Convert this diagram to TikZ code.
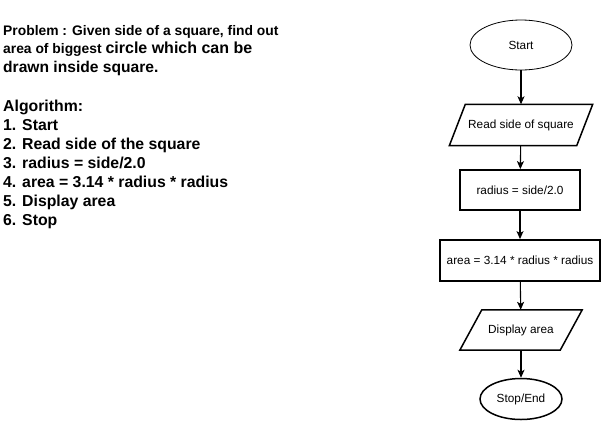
\documentclass[tikz,border=0pt]{standalone}
\usepackage{fontspec}
\setmainfont{Liberation Sans}
\usetikzlibrary{shapes.geometric, positioning, arrows.meta}

\begin{document}
\begin{tikzpicture}[
    x=1pt, y=-1pt,
    terminal/.style={draw, ellipse, inner sep=0pt, align=center, fill=white, font=\fontsize{11.8}{14}\selectfont},
    iobox/.style={rectangle, inner sep=0pt, align=center, font=\fontsize{11.8}{14}\selectfont},
    ioline/.style={line width=1.5pt, line join=miter},
    process/.style={draw, rectangle, inner sep=0pt, line width=1.8pt, align=center, fill=white, font=\fontsize{11.8}{14}\selectfont},
    flow/.style={line width=1.1pt, -{Stealth[length=8pt, width=7pt, inset=2pt]}},
    probline/.style={anchor=base west, inner sep=0pt, font=\bfseries},
    algline/.style={anchor=base west, inner sep=0pt, font=\fontsize{15.8}{19}\selectfont\bfseries}
]
    \useasboundingbox (0,0) rectangle (601,421);

    % ================= PROBLEM STATEMENT =================
    \node[probline] (prob1) at (3, 35) {\fontsize{13.85}{18}\selectfont Problem : Given side of a square, find out};
    \node[probline] (prob2) at (3, 53) {\fontsize{13.85}{18}\selectfont area of biggest \fontsize{16}{18}\selectfont circle which can be};
    \node[probline] (prob3) at (3, 72) {\fontsize{15.6}{18}\selectfont drawn inside square.};

    % ================= ALGORITHM =================
    \node[algline] (alg0) at (3, 111) {Algorithm:};
    \node[algline] (alg1) at (3, 130) {1. Start};
    \node[algline] (alg2) at (3, 149) {2. Read side of the square};
    \node[algline] (alg3) at (3, 168) {3. radius = side/2.0};
    \node[algline] (alg4) at (3, 187) {4. area = 3.14 * radius * radius};
    \node[algline] (alg5) at (3, 206) {5. Display area};
    \node[algline] (alg6) at (3, 225) {6. Stop};

    % ================= FLOWCHART =================
    \node[terminal, line width=0.8pt, minimum width=102pt, minimum height=50pt] (start) at (521, 45) {Start};

    \node[iobox, minimum width=127pt, minimum height=41pt] (read) at (521, 125) {Read side of square};
    \draw[ioline] ([xshift=8]read.north west) -- ([xshift=8]read.north east)
        -- ([xshift=-8]read.south east) -- ([xshift=-8]read.south west) -- cycle;

    \node[process, minimum width=120pt, minimum height=40pt] (radius) at (520, 190) {radius = side/2.0};
    \node[process, minimum width=160pt, minimum height=41pt] (area) at (520, 260.5) {area = 3.14 * radius * radius};

    \node[iobox, minimum width=100pt, minimum height=40pt] (disp) at (521, 330) {Display area};
    \draw[ioline] ([xshift=11]disp.north west) -- ([xshift=11]disp.north east)
        -- ([xshift=-11]disp.south east) -- ([xshift=-11]disp.south west) -- cycle;

    \node[terminal, line width=1.5pt, minimum width=82pt, minimum height=41pt] (stop) at (521, 399) {Stop/End};

    % connectors
    \draw[flow] (start) -- (read);
    \draw[flow] (read) -- (radius);
    \draw[flow] (radius) -- (area);
    \draw[flow] (area) -- (disp);
    \draw[flow] (disp) -- (stop);

\end{tikzpicture}
\end{document}
